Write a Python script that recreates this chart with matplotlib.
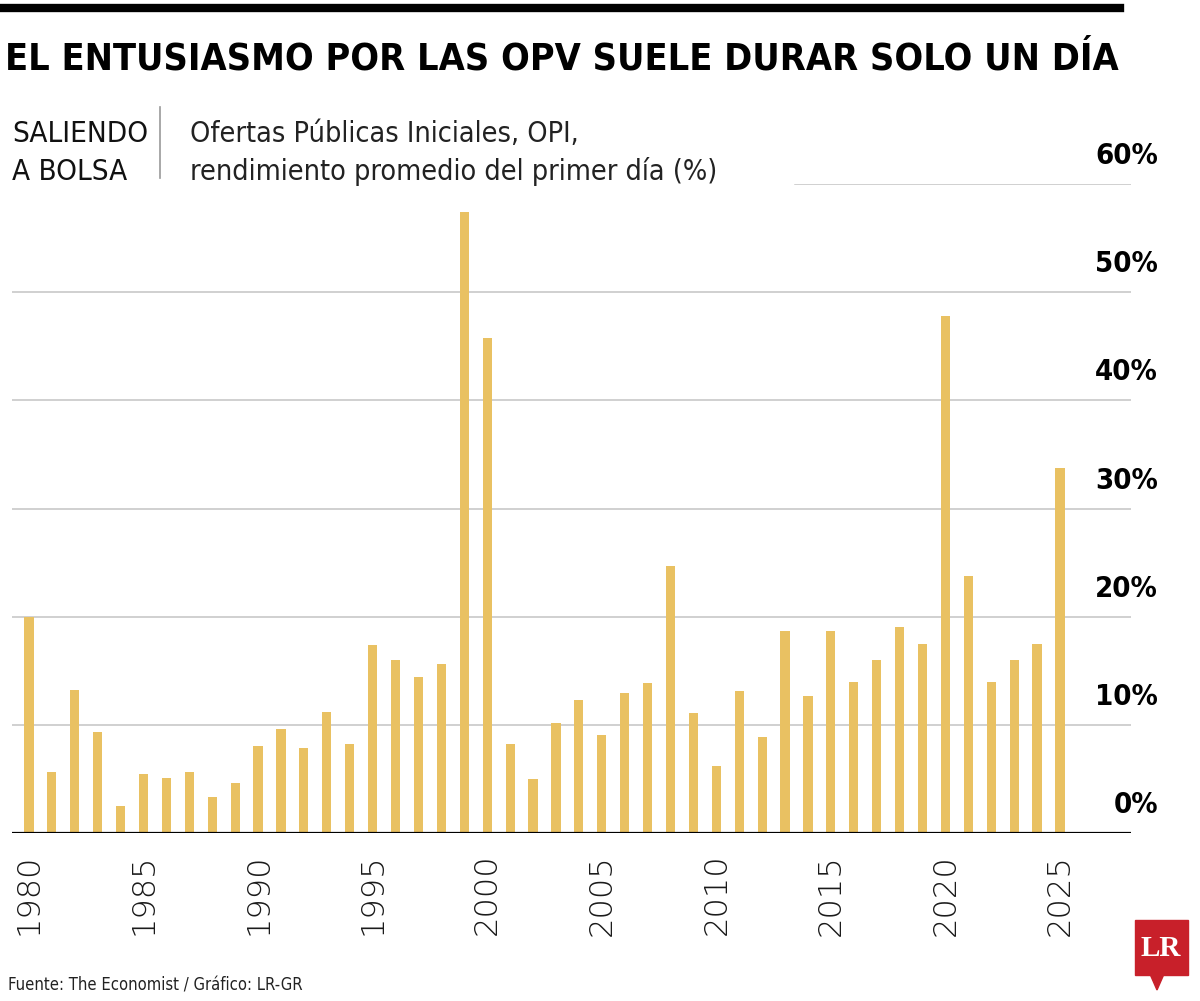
import matplotlib.pyplot as plt
from matplotlib.patches import Rectangle, Polygon
from matplotlib.transforms import blended_transform_factory

years = list(range(1980, 2026))
first_day_return = [20.0, 5.6, 13.2, 9.3, 2.5, 5.5, 5.1, 5.6, 3.3, 4.6,
                    8.0, 9.6, 7.9, 11.2, 8.2, 17.4, 16.0, 14.4, 15.6, 57.4,
                    45.8, 8.2, 5.0, 10.2, 12.3, 9.1, 12.9, 13.9, 24.7, 11.1,
                    6.2, 13.1, 8.9, 18.7, 12.7, 18.7, 14.0, 16.0, 19.0, 17.5,
                    47.8, 23.8, 14.0, 16.0, 17.5, 33.7]
tick_years = list(range(1980, 2030, 5))
y_ticks = [0, 10, 20, 30, 40, 50, 60]

plt.rcParams['font.family'] = ['DejaVu Sans']
plt.rcParams['font.stretch'] = 'condensed'

W, H = 1200, 1001
fig = plt.figure(figsize=(W / 100, H / 100), dpi=100)


def fit(t, width_px, others=()):
    # scale a text so it spans the width seen in the reference
    fig.canvas.draw()
    w = t.get_window_extent().width
    size = t.get_fontsize() * width_px / w
    for o in (t,) + tuple(others):
        o.set_fontsize(size)


# axes placed in pixel terms
x0, x1 = 12, 1131
yb, yt = 833, 184
ax = fig.add_axes([x0 / W, (H - yb) / H, (x1 - x0) / W, (yb - yt) / H])
ax.set_xlim(1979.26, 2028.1)
ax.set_ylim(0, 60)

ax.bar(years, first_day_return, width=0.4, color='#E9C162', zorder=3)

for v in y_ticks[1:]:
    xmin = (795 - x0) / (x1 - x0) if v == 60 else 0
    ax.axhline(v, xmin=xmin, color='#c4c4c4', lw=1.1, zorder=1)
ax.axhline(0, color='black', lw=1.6, zorder=4)

for s in ax.spines.values():
    s.set_visible(False)
ax.set_yticks([])
ax.set_xticks(tick_years)
ax.set_xticklabels([str(t) for t in tick_years], rotation=90,
                   fontstretch='normal', fontweight='light',
                   fontsize=23, color='#1a1a1a')
ax.tick_params(axis='x', length=0, pad=15)

tr = blended_transform_factory(fig.transFigure, ax.transData)
for v in y_ticks:
    ax.annotate(f'{v}%', xy=(1158 / W, v), xycoords=tr,
                xytext=(0, 10), textcoords='offset points',
                ha='right', va='bottom', fontsize=21, fontweight='bold',
                color='black')

# header
fig.add_artist(plt.Line2D([0, 1120 / W], [1 - 8 / H, 1 - 8 / H],
                          color='black', lw=6))
title = fig.text(5 / W, 1 - 70 / H,
                 'EL ENTUSIASMO POR LAS OPV SUELE DURAR SOLO UN DÍA',
                 fontsize=33, fontweight='bold', ha='left', va='baseline')
fit(title, 1113)

k1 = fig.text(12 / W, 1 - 142 / H, 'SALIENDO', fontsize=23,
              ha='left', va='baseline', color='#111111')
k2 = fig.text(12 / W, 1 - 180 / H, 'A BOLSA', fontsize=23,
              ha='left', va='baseline', color='#111111')
fit(k1, 136, (k2,))
fig.add_artist(plt.Line2D([160 / W, 160 / W], [1 - 107 / H, 1 - 178 / H],
                          color='#999999', lw=1.2))
s1 = fig.text(190 / W, 1 - 142 / H, 'Ofertas Públicas Iniciales, OPI,',
              fontsize=23, ha='left', va='baseline', color='#222222')
s2 = fig.text(190 / W, 1 - 180 / H, 'rendimiento promedio del primer día (%)',
              fontsize=23, ha='left', va='baseline', color='#222222')
fit(s2, 530, (s1,))

src = fig.text(8 / W, 1 - 990 / H, 'Fuente: The Economist / Gráfico: LR-GR',
               fontsize=15, ha='left', va='baseline', color='#222222')
fit(src, 295)

# LR logo
fig.add_artist(Rectangle((1135 / W, 1 - 975 / H), 53 / W, 55 / H,
                         transform=fig.transFigure, color='#C8202A'))
fig.add_artist(Polygon([[1150 / W, 1 - 974 / H], [1164 / W, 1 - 974 / H],
                        [1157 / W, 1 - 990 / H]], closed=True,
                       transform=fig.transFigure, color='#C8202A'))
fig.text(1161 / W, 1 - 948 / H, 'LR', family=['Liberation Serif', 'DejaVu Serif'],
         fontweight='bold', fontstretch='normal', fontsize=21, color='white',
         ha='center', va='center')

fig.savefig('out.png', dpi=100)
